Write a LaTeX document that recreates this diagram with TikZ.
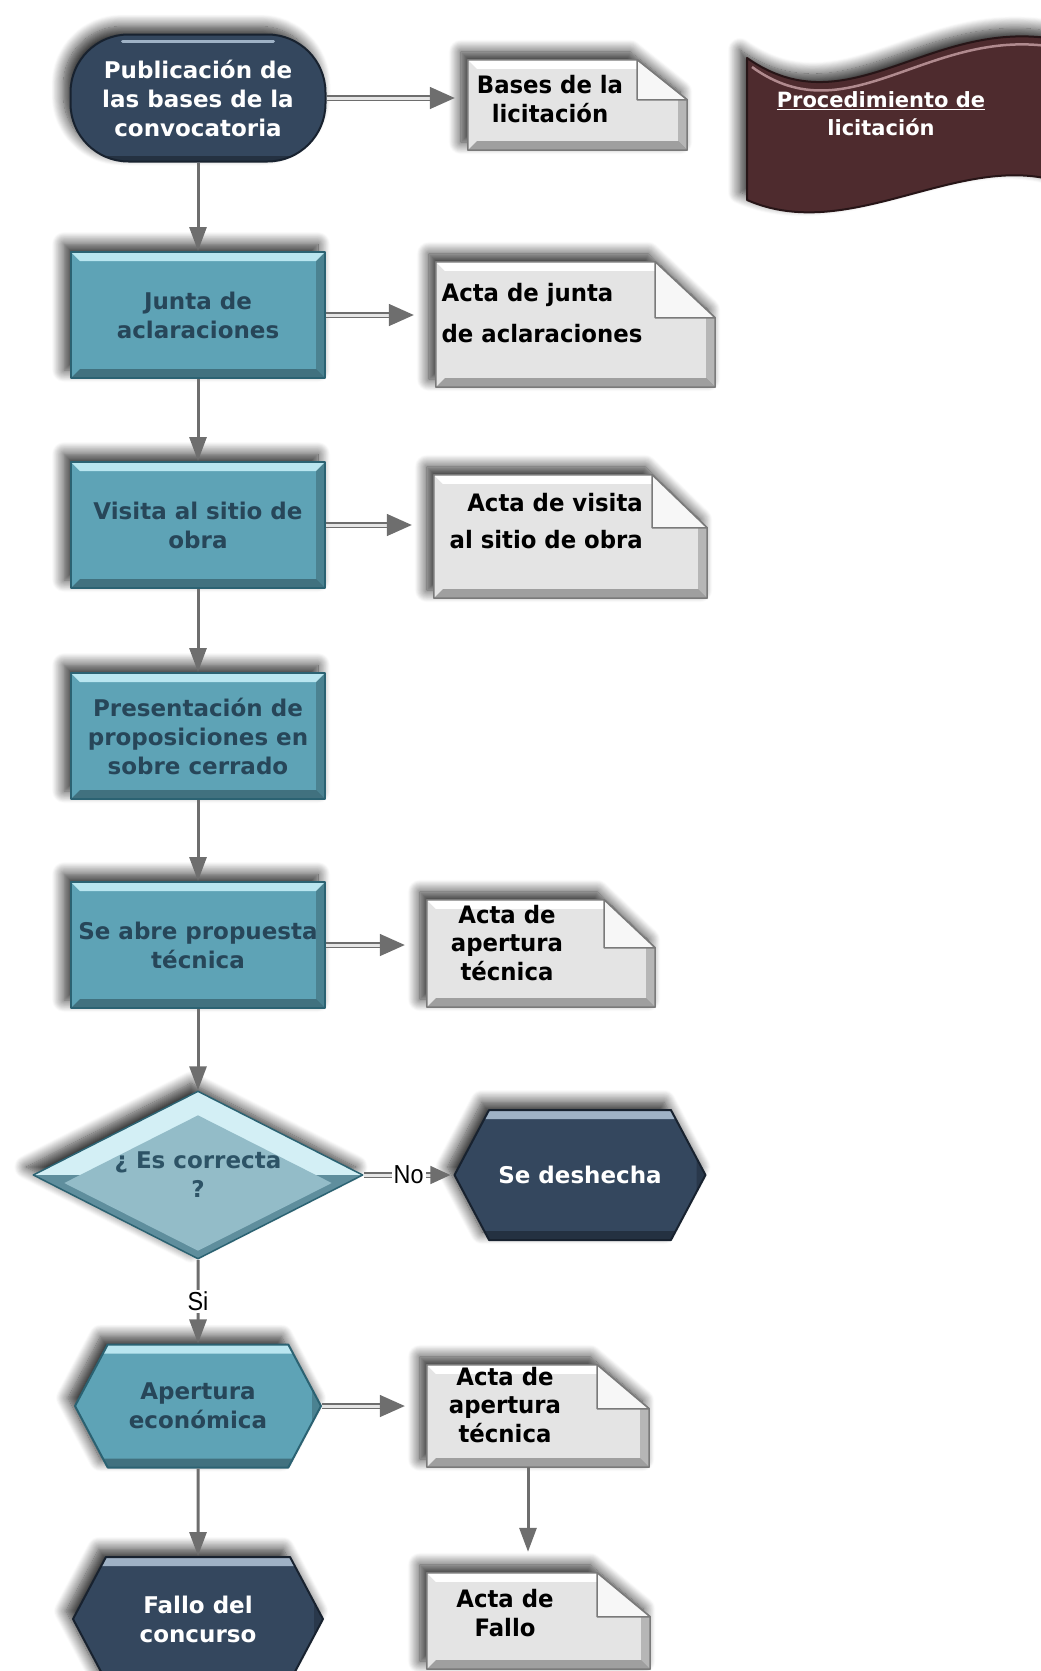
\documentclass[tikz,border=0pt]{standalone}
\usepackage{fontspec}
\setmainfont{DejaVu Sans}
\newfontfamily\docfont[FakeStretch=0.95]{DejaVu Sans}
\newfontfamily\labfont[FakeStretch=0.9]{Liberation Sans}
\usetikzlibrary{arrows.meta,shapes.geometric,shapes.symbols,shadows.blur}
\definecolor{navy}{HTML}{34475E}
\definecolor{navyedge}{HTML}{18222F}
\definecolor{navylight}{HTML}{9FB2C6}
\definecolor{tealbox}{HTML}{5EA3B6}
\definecolor{tealedge}{HTML}{2B6272}
\definecolor{teallight}{HTML}{B9E6F0}
\definecolor{tealtext}{HTML}{274659}
\definecolor{qfill}{HTML}{93BCC8}
\definecolor{qlight}{HTML}{D3EFF5}
\definecolor{qdark}{HTML}{5F8E9D}
\definecolor{qtext}{HTML}{2D5366}
\definecolor{docgray}{HTML}{E4E4E4}
\definecolor{docedge}{HTML}{7A7A7A}
\definecolor{arrowgray}{HTML}{6E6E6E}
\definecolor{maroon}{HTML}{4E2B2E}
\definecolor{maroonlight}{HTML}{B08A8E}

% document sheet with folded corner: node, fold width, fold height
\newcommand{\docshape}[3]{%
  \filldraw[docbody] (#1.north west) -- ([xshift=-#2pt]#1.north east) -- ([yshift=-#3pt]#1.north east) -- (#1.south east) -- (#1.south west) -- cycle;
  \filldraw[docfold] ([xshift=-#2pt]#1.north east) -- ([yshift=-#3pt]#1.north east) -- ([xshift=-#2pt,yshift=-#3pt]#1.north east) -- cycle;
}

\begin{document}
\begin{tikzpicture}[x=1pt, y=-1pt, line join=round,
    font=\fontsize{23}{29}\selectfont\bfseries,
    shade/.style={blur shadow={shadow xshift=-7pt, shadow yshift=8pt, shadow blur radius=12pt, shadow blur steps=14, shadow opacity=85}},
    bevel/.style={path picture={
        \fill[#1] (path picture bounding box.north west) -- (path picture bounding box.north east)
          -- ([xshift=-9pt,yshift=-9pt]path picture bounding box.north east) -- ([xshift=9pt,yshift=-9pt]path picture bounding box.north west) -- cycle;
        \fill[black, opacity=.3] (path picture bounding box.south west) -- (path picture bounding box.south east)
          -- ([xshift=-9pt,yshift=9pt]path picture bounding box.south east) -- ([xshift=9pt,yshift=9pt]path picture bounding box.south west) -- cycle;
        \fill[black, opacity=.2] (path picture bounding box.north east) -- (path picture bounding box.south east)
          -- ([xshift=-9pt,yshift=9pt]path picture bounding box.south east) -- ([xshift=-9pt,yshift=-9pt]path picture bounding box.north east) -- cycle;}},
    startbox/.style={rectangle, rounded corners=58pt, minimum width=255pt, minimum height=127pt, inner sep=0pt, align=center,
      fill=navy, draw=navyedge, line width=2pt, text=white, shade,
      path picture={
        \draw[navylight, line width=3pt, line cap=round] ([xshift=52pt,yshift=-7pt]path picture bounding box.north west)
          -- ([xshift=-52pt,yshift=-7pt]path picture bounding box.north east);
        \draw[black, opacity=.3, line width=6pt] ([yshift=3pt]path picture bounding box.south west)
          -- ([yshift=3pt]path picture bounding box.south east);}},
    stepbox/.style={rectangle, minimum width=254pt, minimum height=126pt, inner sep=0pt, align=center,
      fill=tealbox, draw=tealedge, line width=2pt, text=tealtext, shade, bevel=teallight},
    hexbox/.style={signal, signal to=west and east, signal pointer angle=124, inner sep=0pt, align=center, line width=2pt, shade},
    quest/.style={diamond, aspect=1.96, minimum width=330pt, minimum height=168pt, inner sep=0pt, align=center,
      fill=qlight, draw=tealedge, line width=1.5pt, text=qtext, shade,
      path picture={
        \fill[qdark] (path picture bounding box.west) -- (path picture bounding box.east) -- (path picture bounding box.south) -- cycle;
        \fill[qfill] ([yshift=-24pt]path picture bounding box.north) -- ([xshift=31pt,yshift=-8pt]path picture bounding box.west)
          -- ([yshift=8pt]path picture bounding box.south) -- ([xshift=-31pt,yshift=-8pt]path picture bounding box.east) -- cycle;}},
    docnode/.style={rectangle, inner sep=0pt},
    docbody/.style={fill=docgray, draw=docedge, line width=1.5pt, shade, bevel=white},
    docfold/.style={fill=white!70!docgray, draw=docedge, line width=1.5pt},
    doctext/.style={font=\docfont\fontsize{24}{28.5}\selectfont\bfseries, inner sep=0pt, align=center},
    lab/.style={font=\labfont\fontsize{26}{28}\selectfont\mdseries, fill=white, inner sep=2pt},
    vline/.style={draw=arrowgray, line width=3pt, -{Triangle[length=24pt, width=17pt]}},
    hline/.style={draw=arrowgray, line width=1.5pt, double=white!90!black, double distance=3pt,
      -{Triangle[length=25pt, width=22pt]}, shorten >=22pt},
  ]
  \useasboundingbox (0,0) rectangle (1041,1671);

  % banner
  \filldraw[maroon, draw=black!50!maroon, line width=2pt, shade] (747,58) .. controls (850,130) and (930,15) .. (1060,40)
    -- (1060,182) .. controls (960,150) and (850,245) .. (747,200) -- cycle;
  \draw[maroonlight, line width=2.5pt] (752,67) .. controls (850,138) and (930,23) .. (1060,48);
  \node[text=white, align=center, font=\fontsize{21}{28}\selectfont\bfseries] (proc) at (881,114) {\underline{Procedimiento de}\\licitación};

  % main column
  \node[startbox] (pub) at (198,98) {Publicación de\\las bases de la\\convocatoria};
  \node[stepbox] (junta) at (198,315) {Junta de\\aclaraciones};
  \node[stepbox] (visita) at (198,525) {Visita al sitio de\\obra};
  \node[stepbox] (prop) at (198,736) {Presentación de\\proposiciones en\\sobre cerrado};
  \node[stepbox] (tecnica) at (198,945) {Se abre propuesta\\técnica};
  \node[quest] (correcta) at (198,1175) {¿ Es correcta\\?};
  \node[hexbox, fill=navy, draw=navyedge, text=white, bevel=navylight, minimum width=251pt, minimum height=130pt] (deshecha) at (580,1175) {Se deshecha};
  \node[hexbox, fill=tealbox, draw=tealedge, text=tealtext, bevel=teallight, minimum width=246pt, minimum height=123pt] (economica) at (198,1406) {Apertura\\económica};
  \node[hexbox, fill=navy, draw=navyedge, text=white, bevel=navylight, minimum width=250pt, minimum height=124pt] (fallo) at (198,1619) {Fallo del\\concurso};

  % documents
  \node[docnode, minimum width=219pt, minimum height=90pt] (bases) at (577.5,105) {};
  \docshape{bases}{50}{40}
  \node[doctext] (basest) at (550,99) {Bases de la\\licitación};
  \node[docnode, minimum width=279pt, minimum height=125pt] (ajunta) at (575.5,324.5) {};
  \docshape{ajunta}{60}{56}
  \node[doctext, align=left] (ajuntat) at (542,313) {Acta de junta\\[13pt]de aclaraciones};
  \node[docnode, minimum width=273pt, minimum height=123pt] (avisita) at (570.5,536.5) {};
  \docshape{avisita}{55}{53}
  \node[doctext, align=right, anchor=east] (avisitat) at (643,521) {Acta de visita\\[9pt]al sitio de obra};
  \node[docnode, minimum width=228pt, minimum height=107pt] (atecnica) at (541,953.5) {};
  \docshape{atecnica}{51}{48}
  \node[doctext] (atecnicat) at (507,943) {Acta de\\apertura\\técnica};
  \node[docnode, minimum width=222pt, minimum height=102pt] (aeconomica) at (538,1416) {};
  \docshape{aeconomica}{52}{44}
  \node[doctext] (aeconomicat) at (505,1405) {Acta de\\apertura\\técnica};
  \node[docnode, minimum width=223pt, minimum height=96pt] (afallo) at (538.5,1621) {};
  \docshape{afallo}{53}{44}
  \node[doctext] (afallot) at (505,1613) {Acta de\\Fallo};

  % connectors
  \draw[vline] (pub) -- (junta);
  \draw[vline] (junta) -- (visita);
  \draw[vline] (visita) -- (prop);
  \draw[vline] (prop) -- (tecnica);
  \draw[vline] (tecnica) -- (correcta);
  \draw[vline] (correcta) -- node[lab] (si) {Si} (economica);
  \draw[vline] (economica) -- (fallo);
  \draw[hline, shorten >=13pt] (pub.east) -- (pub.east -| bases.west);
  \draw[hline] (junta.east) -- (junta.east -| ajunta.west);
  \draw[hline] (visita.east) -- (visita.east -| avisita.west);
  \draw[hline] (tecnica.east) -- (tecnica.east -| atecnica.west);
  \draw[hline] (economica.east) -- (economica.east -| aeconomica.west);
  \draw[hline, shorten >=3pt, -{Triangle[length=20pt, width=18pt]}] (correcta.east) -- node[lab] (no) {No} (deshecha.west);
  \draw[vline, shorten >=21pt] ([xshift=-10pt]aeconomica.south) -- ([xshift=-10pt]aeconomica.south |- afallo.north);
\end{tikzpicture}
\end{document}
